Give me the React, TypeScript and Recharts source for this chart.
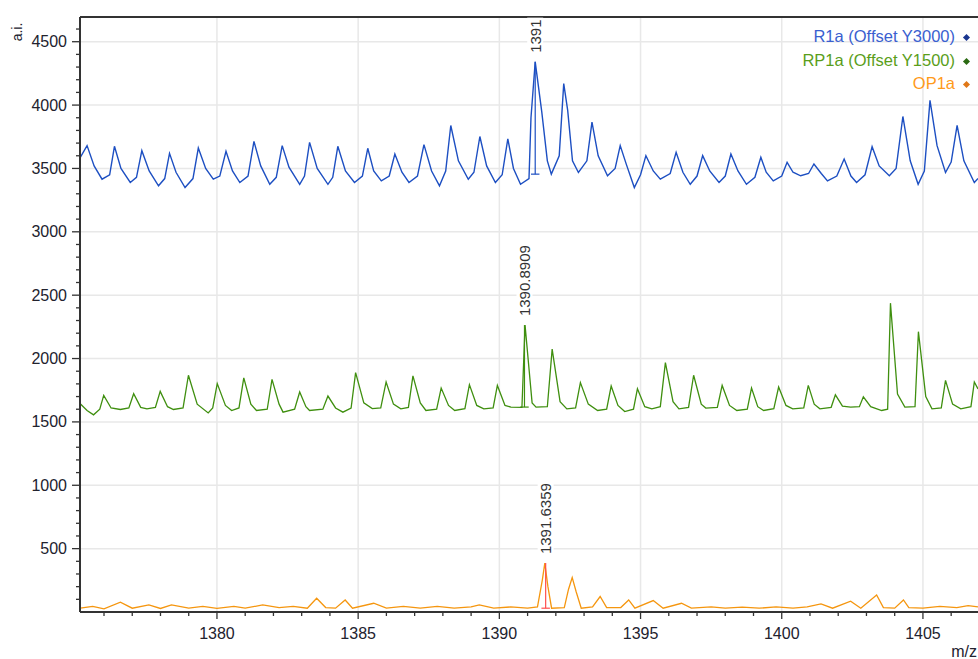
import React from 'react';
import { LineChart, Line, XAxis, YAxis, ReferenceLine, ReferenceDot } from 'recharts';

// offsets applied to the stacked traces (see legend)
const R1A_OFFSET = 3000;
const RP1A_OFFSET = 1500;

// [m/z, intensity], before offset
const R1A: [number, number][] = [
  [1375.16, 588], [1375.4, 680], [1375.65, 520], [1375.93, 415], [1376.2, 450], [1376.37, 675],
  [1376.6, 500], [1376.93, 389], [1377.15, 430], [1377.34, 640], [1377.6, 480], [1377.93, 363],
  [1378.15, 420], [1378.32, 619], [1378.55, 470], [1378.87, 349], [1379.15, 420], [1379.34, 661],
  [1379.6, 500], [1379.87, 415], [1380.1, 440], [1380.32, 635], [1380.55, 480], [1380.81, 389],
  [1381.1, 440], [1381.31, 714], [1381.55, 520], [1381.87, 375], [1382.1, 430], [1382.31, 680],
  [1382.55, 510], [1382.93, 375], [1383.1, 440], [1383.28, 706], [1383.55, 500], [1383.93, 375],
  [1384.1, 430], [1384.28, 675], [1384.55, 480], [1384.87, 389], [1385.15, 440], [1385.34, 659],
  [1385.55, 480], [1385.82, 402], [1386.1, 440], [1386.3, 614], [1386.55, 470], [1386.8, 389],
  [1387.1, 440], [1387.33, 688], [1387.6, 480], [1387.88, 363], [1388.1, 480], [1388.28, 839],
  [1388.55, 560], [1388.9, 415], [1389.1, 470], [1389.31, 752], [1389.55, 520], [1389.86, 389],
  [1390.1, 450], [1390.3, 733], [1390.5, 500], [1390.75, 375], [1391.05, 420], [1391.12, 900],
  [1391.27, 1341], [1391.5, 950], [1391.7, 560], [1391.84, 455], [1392.12, 600], [1392.28, 1169],
  [1392.42, 958], [1392.59, 561], [1392.8, 468], [1393.1, 560], [1393.28, 865], [1393.5, 600],
  [1393.83, 442], [1394.1, 500], [1394.28, 680], [1394.5, 530], [1394.78, 349], [1395.0, 450],
  [1395.19, 601], [1395.45, 480], [1395.7, 415], [1396.05, 460], [1396.26, 627], [1396.5, 470],
  [1396.76, 375], [1397.0, 440], [1397.2, 601], [1397.45, 480], [1397.78, 389], [1398.0, 440],
  [1398.2, 614], [1398.45, 480], [1398.75, 375], [1399.05, 430], [1399.26, 588], [1399.45, 470],
  [1399.7, 402], [1400.0, 440], [1400.19, 548], [1400.4, 470], [1400.67, 442], [1400.95, 460],
  [1401.14, 535], [1401.4, 460], [1401.62, 402], [1401.95, 440], [1402.21, 574], [1402.45, 440],
  [1402.65, 389], [1402.95, 450], [1403.2, 672], [1403.45, 520], [1403.81, 442], [1404.05, 500],
  [1404.29, 910], [1404.55, 560], [1404.83, 375], [1405.05, 480], [1405.25, 1037], [1405.5, 680],
  [1405.8, 468], [1406.0, 550], [1406.21, 839], [1406.45, 560], [1406.82, 389], [1406.95, 420],
];

const RP1A: [number, number][] = [
  [1375.16, 143], [1375.4, 90], [1375.63, 56], [1375.85, 100], [1375.99, 209], [1376.25, 110],
  [1376.58, 98], [1376.88, 110], [1377.05, 222], [1377.3, 115], [1377.52, 103], [1377.82, 115],
  [1377.99, 241], [1378.25, 120], [1378.46, 98], [1378.8, 110], [1378.99, 368], [1379.3, 140],
  [1379.69, 71], [1379.85, 110], [1380.01, 302], [1380.3, 130], [1380.52, 90], [1380.78, 110],
  [1380.95, 347], [1381.2, 140], [1381.4, 90], [1381.78, 100], [1381.95, 336], [1382.2, 140],
  [1382.34, 77], [1382.75, 100], [1382.93, 236], [1383.15, 120], [1383.28, 90], [1383.75, 100],
  [1383.93, 204], [1384.2, 110], [1384.46, 77], [1384.75, 110], [1384.91, 389], [1385.2, 150],
  [1385.5, 105], [1385.8, 110], [1385.99, 315], [1386.25, 140], [1386.51, 103], [1386.78, 115],
  [1386.94, 363], [1387.2, 150], [1387.4, 90], [1387.78, 100], [1387.94, 267], [1388.2, 130],
  [1388.42, 90], [1388.78, 105], [1388.94, 294], [1389.2, 130], [1389.45, 103], [1389.78, 110],
  [1389.93, 288], [1390.2, 130], [1390.41, 117], [1390.8, 115], [1390.91, 764], [1391.16, 150],
  [1391.3, 117], [1391.7, 120], [1391.87, 574], [1392.15, 160], [1392.39, 103], [1392.7, 110],
  [1392.87, 310], [1393.15, 140], [1393.48, 90], [1393.8, 100], [1393.96, 283], [1394.2, 130],
  [1394.44, 82], [1394.75, 100], [1394.89, 262], [1395.15, 120], [1395.4, 103], [1395.7, 120],
  [1395.88, 468], [1396.15, 160], [1396.36, 103], [1396.7, 115], [1396.88, 368], [1397.15, 140],
  [1397.31, 109], [1397.72, 115], [1397.89, 288], [1398.15, 130], [1398.41, 90], [1398.78, 100],
  [1398.93, 267], [1399.15, 120], [1399.36, 90], [1399.72, 105], [1399.89, 275], [1400.15, 130],
  [1400.39, 103], [1400.78, 110], [1400.94, 288], [1401.15, 140], [1401.35, 103], [1401.75, 115],
  [1401.9, 214], [1402.15, 125], [1402.44, 117], [1402.75, 120], [1402.89, 198], [1403.15, 120],
  [1403.54, 90], [1403.75, 100], [1403.85, 937], [1404.1, 220], [1404.36, 117], [1404.72, 120],
  [1404.84, 712], [1405.1, 200], [1405.32, 103], [1405.65, 110], [1405.8, 328], [1406.05, 140],
  [1406.34, 103], [1406.7, 120], [1406.82, 315], [1406.95, 260],
];

const OP1A: [number, number][] = [
  [1375.16, 30], [1375.6, 45], [1376.0, 25], [1376.58, 77], [1377.0, 30], [1377.59, 56],
  [1378.0, 28], [1378.39, 56], [1379.0, 30], [1379.5, 45], [1380.0, 28], [1380.6, 45],
  [1381.0, 30], [1381.62, 56], [1382.2, 35], [1382.7, 45], [1383.2, 30], [1383.53, 108],
  [1383.85, 35], [1384.2, 30], [1384.54, 95], [1384.8, 30], [1385.55, 69], [1386.0, 30],
  [1386.6, 45], [1387.2, 30], [1387.8, 45], [1388.4, 30], [1389.0, 40], [1389.29, 56],
  [1389.8, 30], [1390.4, 40], [1391.0, 30], [1391.35, 40], [1391.52, 250], [1391.61, 386],
  [1391.72, 200], [1391.85, 30], [1392.3, 35], [1392.45, 180], [1392.58, 272], [1392.72, 160],
  [1392.9, 30], [1393.3, 40], [1393.57, 122], [1393.8, 35], [1394.3, 35], [1394.58, 95],
  [1394.8, 30], [1395.45, 90], [1395.8, 30], [1396.45, 69], [1396.8, 30], [1397.5, 40],
  [1398.0, 30], [1398.6, 38], [1399.2, 30], [1399.8, 40], [1400.4, 30], [1400.9, 40],
  [1401.39, 64], [1401.8, 30], [1402.44, 85], [1402.8, 30], [1403.36, 135], [1403.6, 35],
  [1404.0, 30], [1404.31, 95], [1404.5, 35], [1405.0, 30], [1405.6, 45], [1406.2, 35],
  [1406.6, 50], [1406.95, 40],
];

// picked peaks: label, m/z, top and base of the marker (displayed scale)
const PEAKS = [
  { label: '1391', mz: 1391.27, top: 4341, base: 3455, color: '#1d4fc2' },
  { label: '1390.8909', mz: 1390.89, top: 2264, base: 1617, color: '#3f8f0f' },
  { label: '1391.6359', mz: 1391.64, top: 386, base: 30, color: '#ff4d4d' },
];

const X_MAJOR = [1380, 1385, 1390, 1395, 1400, 1405];
const Y_MAJOR = [500, 1000, 1500, 2000, 2500, 3000, 3500, 4000, 4500];
const X_TICKS = Array.from({ length: 31 }, (_, i) => 1376 + i);
const Y_TICKS = Array.from({ length: 46 }, (_, i) => 100 + i * 100);

const X_DOMAIN = [1375.15, 1406.95];
const Y_DOMAIN = [0, 4695];

const FONT = 'Arial, "Liberation Sans", sans-serif';
const TEXT = '#22222e';

const toRows = (pts: [number, number][], off: number) => pts.map(([mz, v]) => ({ mz, v: v + off }));

const XTick = ({ x, y, payload }: any) => {
  const major = payload.value % 5 === 0;
  return (
    <g>
      <line x1={x} y1={y} x2={x} y2={y + (major ? 7 : 4)} stroke="#333" strokeWidth={1.3} />
      {major && (
        <text x={x} y={y + 27} textAnchor="middle" fontSize={16} fontFamily={FONT} fill={TEXT}>
          {payload.value}
        </text>
      )}
    </g>
  );
};

const YTick = ({ x, y, payload }: any) => {
  const major = payload.value % 500 === 0;
  return (
    <g>
      <line x1={x} y1={y} x2={x - (major ? 8 : 4)} y2={y} stroke="#333" strokeWidth={1.3} />
      {major && (
        <text x={x - 13} y={y + 5.5} textAnchor="end" fontSize={16} fontFamily={FONT} fill={TEXT}>
          {payload.value}
        </text>
      )}
    </g>
  );
};

const PeakLabel = ({ viewBox, value }: any) => {
  const cx = viewBox.x + (viewBox.width || 0) / 2;
  const top = viewBox.y - 9;
  const w = String(value).length * 8.3 + 4;
  return (
    <g transform={`rotate(-90 ${cx} ${top})`}>
      <rect x={cx - 2} y={top - 8} width={w} height={16} fill="#fff" />
      <text x={cx} y={top} dominantBaseline="central" fontSize={15} fontFamily={FONT} fill="#333">
        {value}
      </text>
    </g>
  );
};

const LEGEND = [
  { name: 'R1a (Offset Y3000)', text: '#3a5fd0', dot: '#1a3690' },
  { name: 'RP1a (Offset Y1500)', text: '#5a9e1a', dot: '#2b6a12' },
  { name: 'OP1a', text: '#ff9a1a', dot: '#e07818' },
];

export default function App() {
  return (
    <div style={{ position: 'absolute', left: 0, top: 0, width: 978, height: 659, background: '#fff' }}>
      <LineChart width={978} height={659} margin={{ top: 17, right: 0, bottom: 0, left: 0 }}>
        <XAxis
          type="number"
          dataKey="mz"
          domain={X_DOMAIN}
          allowDataOverflow
          ticks={X_TICKS}
          interval={0}
          tick={<XTick />}
          tickLine={false}
          tickSize={0}
          tickMargin={0}
          height={47}
          axisLine={{ stroke: '#333', strokeWidth: 2 }}
        />
        <YAxis
          type="number"
          domain={Y_DOMAIN}
          allowDataOverflow
          ticks={Y_TICKS}
          interval={0}
          tick={<YTick />}
          tickLine={false}
          tickSize={0}
          tickMargin={0}
          width={80}
          axisLine={{ stroke: '#333', strokeWidth: 2 }}
        />
        {X_MAJOR.map((v) => (
          <ReferenceLine key={`gx${v}`} x={v} stroke="#e8e8e8" strokeWidth={1.5} />
        ))}
        {Y_MAJOR.map((v) => (
          <ReferenceLine key={`gy${v}`} y={v} stroke="#e8e8e8" strokeWidth={1.5} />
        ))}
        <ReferenceLine y={Y_DOMAIN[1]} stroke="#333" strokeWidth={2} />

        <Line data={toRows(OP1A, 0)} dataKey="v" stroke="#f5960f" strokeWidth={1.3} dot={false} isAnimationActive={false} />
        <Line data={toRows(RP1A, RP1A_OFFSET)} dataKey="v" stroke="#3f8f0f" strokeWidth={1.3} dot={false} isAnimationActive={false} />
        <Line data={toRows(R1A, R1A_OFFSET)} dataKey="v" stroke="#1d4fc2" strokeWidth={1.4} dot={false} isAnimationActive={false} />

        {PEAKS.map((p) => (
          <ReferenceLine
            key={`m${p.label}`}
            segment={[{ x: p.mz, y: p.top }, { x: p.mz, y: p.base }]}
            stroke={p.color}
            strokeWidth={1.2}
          />
        ))}
        {PEAKS.map((p) => (
          <ReferenceLine
            key={`b${p.label}`}
            segment={[{ x: p.mz - 0.15, y: p.base }, { x: p.mz + 0.15, y: p.base }]}
            stroke={p.color}
            strokeWidth={1.2}
          />
        ))}
        {PEAKS.map((p) => (
          <ReferenceDot
            key={`l${p.label}`}
            x={p.mz}
            y={p.top}
            r={0}
            fill="none"
            stroke="none"
            label={<PeakLabel value={p.label} />}
          />
        ))}
      </LineChart>

      <svg width={978} height={659} style={{ position: 'absolute', left: 0, top: 0, pointerEvents: 'none' }}>
        <text transform="rotate(-90 22 32)" x={22} y={32} textAnchor="middle" fontSize={14} fontFamily={FONT} fill={TEXT}>
          a.i.
        </text>
        <text x={977} y={657} textAnchor="end" fontSize={16} fontFamily={FONT} fill={TEXT}>
          m/z
        </text>
      </svg>

      <div
        style={{
          position: 'absolute',
          right: 8,
          top: 25,
          textAlign: 'right',
          fontFamily: FONT,
          fontSize: 16.5,
          lineHeight: '23.5px',
        }}
      >
        {LEGEND.map((l) => (
          <div key={l.name} style={{ color: l.text, whiteSpace: 'nowrap' }}>
            {l.name}
            <span
              style={{
                display: 'inline-block',
                width: 5,
                height: 5,
                marginLeft: 9,
                marginRight: 1,
                background: l.dot,
                transform: 'rotate(45deg)',
                verticalAlign: 'middle',
              }}
            />
          </div>
        ))}
      </div>
    </div>
  );
}
